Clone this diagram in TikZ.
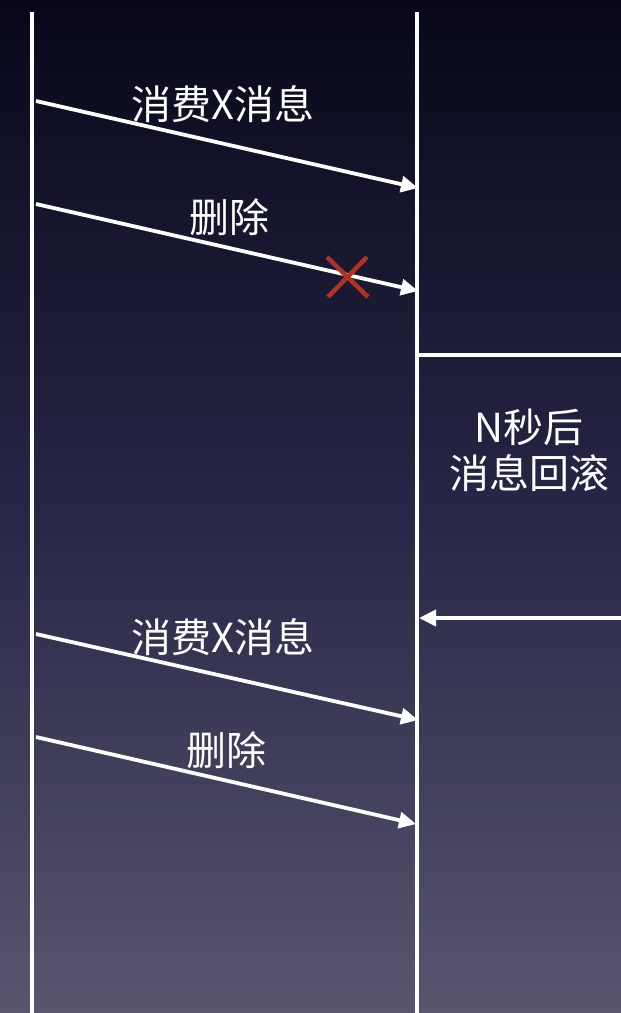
\documentclass[tikz,border=0pt]{standalone}
\usepackage{fontspec}
\setmainfont{Noto Sans CJK SC}
\usetikzlibrary{arrows.meta}
\definecolor{bgtop}{HTML}{08081A}
\definecolor{bgmid}{HTML}{262646}
\definecolor{bgbot}{HTML}{58566F}
\definecolor{crossred}{HTML}{B03222}
\begin{document}
\begin{tikzpicture}[x=1pt,y=-1pt,
  life/.style={draw=white,line width=4pt},
  msg/.style={draw=white,line width=3.8pt,-{Triangle[length=17pt,width=16pt]}},
  lbl/.style={text=white,font=\fontsize{40}{44}\selectfont,inner sep=0pt},
  cross/.style={draw=crossred,line width=4.5pt}]
\shade[top color=bgtop,bottom color=bgbot,middle color=bgmid] (0,0) rectangle (621,1013);
\useasboundingbox (0,0) rectangle (621,1013);
% lifelines
\coordinate (LT) at (32,12); \coordinate (LB) at (32,1013);
\coordinate (RT) at (417,12); \coordinate (RB) at (417,1013);
\draw[life] (LT) -- (LB);
\draw[life] (RT) -- (RB);
% endpoints
\coordinate (a1s) at (36,101); \coordinate (a1e) at (418,188);
\coordinate (a2s) at (36,204); \coordinate (a2e) at (418,291);
\coordinate (a3s) at (36,634); \coordinate (a3e) at (418,720);
\coordinate (a4s) at (36,737); \coordinate (a4e) at (416,824);
\draw[msg] (a1s) -- (a1e);
\draw[msg] (a2s) -- (a2e);
\draw[msg] (a3s) -- (a3e);
\draw[msg] (a4s) -- (a4e);
\node[lbl] (l1) at (223,104) {消费X消息};
\node[lbl] (l2) at (229,217) {删除};
\node[lbl] (l3) at (223,637) {消费X消息};
\node[lbl] (l4) at (226,750) {删除};
% red cross
\coordinate (c1) at (327,257); \coordinate (c2) at (368,297);
\coordinate (c3) at (367,257); \coordinate (c4) at (328,297);
\draw[cross] (c1) -- (c2);
\draw[cross] (c3) -- (c4);
% timeout region
\coordinate (hs) at (419,355); \coordinate (he) at (621,355);
\draw[life] (hs) -- (he);
\node[lbl] (t1) at (529,427) {N秒后};
\node[lbl] (t2) at (529,473) {消息回滚};
\coordinate (rbs) at (621,618); \coordinate (rbe) at (419,618);
\draw[msg] (rbs) -- (rbe);
\end{tikzpicture}
\end{document}
